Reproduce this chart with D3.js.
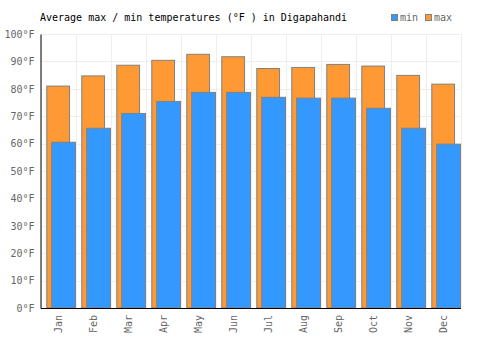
<!DOCTYPE html>
<html><head><meta charset="utf-8">
<script src="https://cdn.jsdelivr.net/npm/d3@7"></script>
<style>body{margin:0;background:#fff}svg{display:block}text{font-family:"DejaVu Sans Mono",monospace}</style>
</head><body>
<svg id="c" width="500" height="350"></svg>
<script>
const months = ["Jan","Feb","Mar","Apr","May","Jun","Jul","Aug","Sep","Oct","Nov","Dec"];
const maxTemps = [81, 84.7, 88.6, 90.4, 92.6, 91.7, 87.4, 87.8, 88.9, 88.3, 84.9, 81.7];
const minTemps = [60.5, 65.6, 71, 75.4, 78.7, 78.7, 76.9, 76.6, 76.6, 72.9, 65.6, 59.8];
const yTicks = [0,10,20,30,40,50,60,70,80,90,100];
const title = "Average max / min temperatures (°F ) in Digapahandi";

const svg = d3.select("#c");
const L = 40.5, R = 460.5, T = 34, B = 308;
const x = d3.scaleBand().domain(months).range([L, R]);
const y = d3.scaleLinear().domain([0, 100]).range([B, T]);
const bw = x.bandwidth();

// grid
svg.append("g").selectAll("line").data(yTicks).join("line")
  .attr("x1", L).attr("x2", R).attr("y1", d => Math.round(y(d)) + 0.5).attr("y2", d => Math.round(y(d)) + 0.5)
  .attr("stroke", "#eeeeee").attr("stroke-width", 1);
svg.append("g").selectAll("line").data(months.concat(["_end"])).join("line")
  .attr("x1", (d, i) => Math.round(L + i * bw) + 0.5).attr("x2", (d, i) => Math.round(L + i * bw) + 0.5)
  .attr("y1", T).attr("y2", B)
  .attr("stroke", "#eeeeee").attr("stroke-width", 1);

// max bars
svg.append("g").selectAll("rect").data(maxTemps).join("rect")
  .attr("x", (d, i) => x(months[i]) + bw * 0.18)
  .attr("width", bw * 0.65)
  .attr("y", d => y(d))
  .attr("height", d => B - y(d))
  .attr("fill", "#ff9933").attr("stroke", "#808080").attr("stroke-width", 1);

// min bars
svg.append("g").selectAll("rect").data(minTemps).join("rect")
  .attr("x", (d, i) => x(months[i]) + bw * 0.32)
  .attr("width", bw * 0.68)
  .attr("y", d => y(d))
  .attr("height", d => B - y(d))
  .attr("fill", "#3399ff").attr("stroke", "#808080").attr("stroke-width", 1);

// axes
const yAxis = d3.axisLeft(y).tickValues(yTicks).tickFormat(d => d + "°F").tickSize(0).tickPadding(6);
const gy = svg.append("g").attr("transform", `translate(${L},0)`).call(yAxis);
gy.select(".domain").attr("stroke", "#000");
gy.selectAll("text").attr("fill", "#666").style("font-size", "10px").style("font-family", "DejaVu Sans Mono, monospace");

const xAxis = d3.axisBottom(x).tickSize(0).tickPadding(6);
const gx = svg.append("g").attr("transform", `translate(0,${B})`).call(xAxis);
gx.select(".domain").attr("stroke", "#000");
gx.selectAll("text").attr("fill", "#666").style("font-size", "10px").style("font-family", "DejaVu Sans Mono, monospace")
  .attr("text-anchor", "end").attr("transform", "rotate(-90)").attr("x", -7).attr("y", 0).attr("dy", "0.35em");

// title
svg.append("text").attr("x", 40).attr("y", 21).text(title)
  .attr("fill", "#000").style("font-size", "10px");

// legend
const legend = [{k: "min", c: "#3399ff", x: 391}, {k: "max", c: "#ff9933", x: 425}];
const lg = svg.append("g").selectAll("g").data(legend).join("g");
lg.append("rect").attr("x", d => d.x + 0.5).attr("y", 14.5).attr("width", 6).attr("height", 6)
  .attr("fill", d => d.c).attr("stroke", "#808080");
lg.append("text").attr("x", d => d.x + 9).attr("y", 21).text(d => d.k)
  .attr("fill", "#666").style("font-size", "10px");
</script>
</body></html>
